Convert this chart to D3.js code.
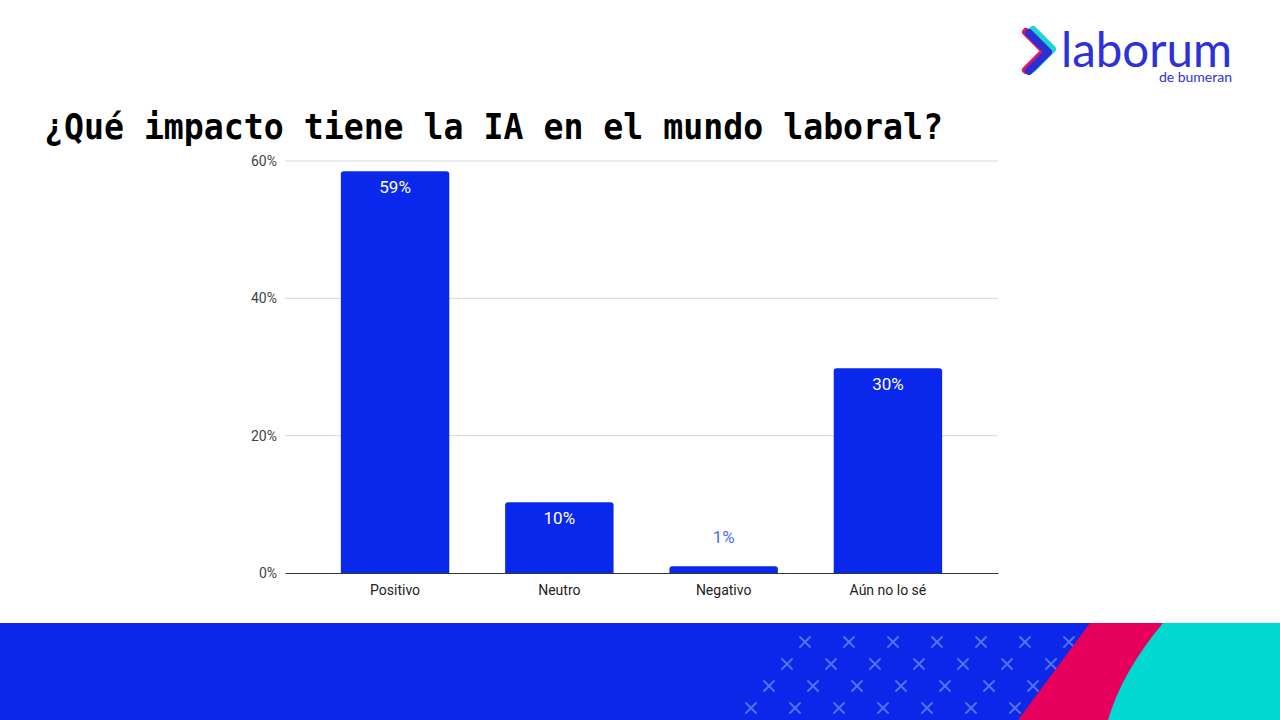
<!DOCTYPE html>
<html>
<head>
<meta charset="utf-8">
<script src="https://cdn.jsdelivr.net/npm/d3@7"></script>
<style>
  html, body { margin: 0; padding: 0; background: #fff; }
  svg { display: block; }
</style>
</head>
<body>
<script>
// Chart data
const categories = ['Positivo', 'Neutro', 'Negativo', 'Aún no lo sé'];
const values = [58.5, 10.3, 1.0, 29.8];
const valueLabels = ['59%', '10%', '1%', '30%'];
const yTicks = [0, 20, 40, 60];
const titleText = '¿Qué impacto tiene la IA en el mundo laboral?';

const width = 1280, height = 720;
const svg = d3.select('body').append('svg')
    .attr('width', width)
    .attr('height', height);

// Plot area
const margin = { top: 161, right: 282, bottom: 147, left: 285 };
const innerWidth = width - margin.left - margin.right;
const innerHeight = height - margin.top - margin.bottom;
const g = svg.append('g')
    .attr('transform', `translate(${margin.left},${margin.top})`);

const x = d3.scaleBand()
    .domain(categories)
    .range([0, innerWidth])
    .paddingInner(0.34)
    .paddingOuter(0.34);

const y = d3.scaleLinear()
    .domain([0, 60])
    .range([innerHeight, 0]);

// Gridlines
g.append('g')
    .selectAll('line')
    .data(yTicks.filter(d => d > 0))
    .join('line')
    .attr('x1', 0)
    .attr('x2', innerWidth)
    .attr('y1', d => y(d))
    .attr('y2', d => y(d))
    .attr('stroke', '#d9d9d9')
    .attr('stroke-width', 1);

// Y axis labels
const yAxis = g.append('g')
    .call(d3.axisLeft(y).tickValues(yTicks).tickFormat(d => d + '%').tickSize(0).tickPadding(8));
yAxis.select('.domain').remove();
yAxis.selectAll('text')
    .attr('font-family', 'Roboto, sans-serif')
    .attr('font-size', 14)
    .attr('fill', '#444');

// Bars with rounded top corners
const r = 3;
g.append('g')
    .selectAll('path')
    .data(values)
    .join('path')
    .attr('d', (d, i) => {
        const x0 = x(categories[i]), w = x.bandwidth();
        const y0 = y(d), y1 = y(0);
        return `M${x0},${y1} L${x0},${y0 + r} Q${x0},${y0} ${x0 + r},${y0}
                L${x0 + w - r},${y0} Q${x0 + w},${y0} ${x0 + w},${y0 + r} L${x0 + w},${y1} Z`;
    })
    .attr('fill', '#0a27ec');

// Value labels
g.append('g')
    .selectAll('text')
    .data(values)
    .join('text')
    .attr('x', (d, i) => x(categories[i]) + x.bandwidth() / 2)
    .attr('y', d => (y(0) - y(d) > 30) ? y(d) + 22 : y(d) - 23)
    .attr('text-anchor', 'middle')
    .attr('font-family', 'Roboto, sans-serif')
    .attr('font-size', 17)
    .attr('fill', d => (y(0) - y(d) > 30) ? '#ffffff' : '#4a6af5')
    .text((d, i) => valueLabels[i]);

// X axis
const xAxis = g.append('g')
    .attr('transform', `translate(0,${innerHeight})`)
    .call(d3.axisBottom(x).tickSize(0).tickPadding(12));
xAxis.select('.domain').attr('stroke', '#333').attr('stroke-width', 1.2);
xAxis.selectAll('text')
    .attr('font-family', 'Roboto, sans-serif')
    .attr('font-size', 14)
    .attr('fill', '#222');

// Title
svg.append('text')
    .attr('x', 44)
    .attr('y', 139)
    .attr('font-family', '"DejaVu Sans Mono", monospace')
    .attr('font-weight', 'bold')
    .attr('font-size', 36)
    .attr('textLength', 899)
    .attr('lengthAdjust', 'spacingAndGlyphs')
    .attr('fill', '#000')
    .text(titleText);

// Logo
const logo = svg.append('g');
const chevron = 'M1029,33 L1048,52 L1029,71';
logo.append('path').attr('d', chevron).attr('transform', 'translate(4,-3)')
    .attr('fill', 'none').attr('stroke', '#1fd6cf').attr('stroke-width', 8)
    .attr('stroke-linecap', 'round').attr('stroke-linejoin', 'round');
logo.append('path').attr('d', chevron).attr('transform', 'translate(-3,-1)')
    .attr('fill', 'none').attr('stroke', '#e8145f').attr('stroke-width', 8)
    .attr('stroke-linecap', 'round').attr('stroke-linejoin', 'round');
logo.append('path').attr('d', chevron)
    .attr('fill', 'none').attr('stroke', '#2b2fd6').attr('stroke-width', 8)
    .attr('stroke-linecap', 'round').attr('stroke-linejoin', 'round');
logo.append('text')
    .attr('x', 1061).attr('y', 67)
    .attr('font-family', 'Lato, sans-serif')
    .attr('font-size', 48)
    .attr('textLength', 171)
    .attr('lengthAdjust', 'spacingAndGlyphs')
    .attr('fill', '#2f31d8')
    .text('laborum');
logo.append('text')
    .attr('x', 1232).attr('y', 82)
    .attr('text-anchor', 'end')
    .attr('font-family', 'Lato, sans-serif')
    .attr('font-size', 14)
    .attr('fill', '#2f31d8')
    .text('de bumeran');

// Bottom decorative band
const band = svg.append('g');
band.append('rect')
    .attr('x', 0).attr('y', 623)
    .attr('width', width).attr('height', height - 623)
    .attr('fill', '#0b28ea');

// Cross pattern (decoration)
const crossG = band.append('g')
    .attr('stroke', '#5270f0')
    .attr('stroke-width', 2)
    .attr('stroke-linecap', 'round');
for (let row = 0; row < 5; row++) {
    const cy = 620 + 22 * row;
    for (let k = 0; k < 8; k++) {
        const cx = 823 - 18 * row + 44 * k;
        const edge = 1090 - (cy - 623) * 72 / 97;
        if (cx > edge - 4 || cy < 626 || cy > 716) continue;
        crossG.append('path')
            .attr('d', `M${cx - 5},${cy - 5} L${cx + 5},${cy + 5} M${cx + 5},${cy - 5} L${cx - 5},${cy + 5}`);
    }
}

band.append('path')
    .attr('d', 'M1090,623 L1175,623 L1120,720 L1018,720 Z')
    .attr('fill', '#e6005c');
band.append('path')
    .attr('d', 'M1163,623 Q1122,672 1108,720 L1280,720 L1280,623 Z')
    .attr('fill', '#00d8d2');
</script>
</body>
</html>
